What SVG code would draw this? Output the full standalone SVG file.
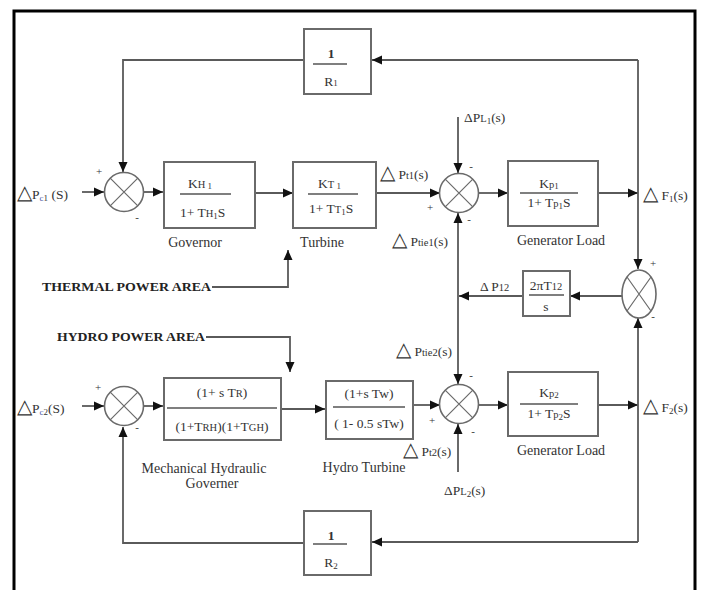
<svg xmlns="http://www.w3.org/2000/svg" width="701" height="590" viewBox="0 0 701 590">
<defs>
<marker id="ah" markerWidth="10" markerHeight="10" refX="10" refY="5" orient="auto" markerUnits="userSpaceOnUse">
<path d="M0,0.5 L10,5 L0,9.5 Z" fill="#111"/>
</marker>
<style>
.frame{fill:none;stroke:#000;stroke-width:3}
.box{fill:#fff;stroke:#6a6a6a;stroke-width:2}
.arr{fill:none;stroke:#5a5a5a;stroke-width:1.8;marker-end:url(#ah)}
.sum{fill:#fff;stroke:#6a6a6a;stroke-width:1.6}
.x{stroke:#6a6a6a;stroke-width:1.2}
.frac{stroke:#555;stroke-width:1.6}
text{font-family:"Liberation Serif","Times New Roman",serif;fill:#333;font-size:13.5px}
.t{font-size:14px}
.c{text-anchor:middle}
.b{font-weight:bold;font-size:13px;fill:#222}
.sg{font-size:11px;text-anchor:middle}
.tri{font-size:20px}
.sm{font-size:10.5px}
.sub{font-size:9px}
</style>
</defs>
<rect width="701" height="590" fill="#fff"/>
<path class="frame" d="M14,590 V11 H695 V590"/>

<g id="connectors">
<path class="arr" d="M82,192 H104"/>
<path class="arr" d="M144,192 H163"/>
<path class="arr" d="M255,193 H293"/>
<path class="arr" d="M376,193 H440"/>
<path class="arr" d="M458,117 V173"/>
<path class="arr" d="M478,193 H508"/>
<path class="arr" d="M598,193 H638"/>
<path class="arr" d="M638,60 V269"/>
<path class="arr" d="M638,60 H372"/>
<path class="arr" d="M304,60 H123 V172"/>
<path class="arr" d="M212,287 H288 V250"/>
<path class="arr" d="M206,337 H290 V372"/>
<path class="arr" d="M622,296 H570"/>
<path class="arr" d="M523,296 H459"/>
<path class="arr" d="M458,296 V213"/>
<path class="arr" d="M458,296 V384"/>
<path class="arr" d="M82,406 H104"/>
<path class="arr" d="M144,406 H163"/>
<path class="arr" d="M281,409 H325"/>
<path class="arr" d="M413,405 H440"/>
<path class="arr" d="M458,472 V424"/>
<path class="arr" d="M478,405 H508"/>
<path class="arr" d="M598,405 H638"/>
<path class="arr" d="M638,542 V318"/>
<path class="arr" d="M638,542 H372"/>
<path class="arr" d="M304,543 H123 V427"/>
</g>

<g id="input1">
<text x="17" y="199"><tspan class="tri">△</tspan>P<tspan class="sub" fill="#4a5aa8" dy="2">c</tspan><tspan class="sub">1</tspan><tspan dy="-2"> (S)</tspan></text>
</g>

<g id="sum1">
<circle class="sum" cx="124" cy="192" r="19.5"/>
<path class="x" d="M110.2,178.2 L137.8,205.8 M137.8,178.2 L110.2,205.8"/>
<text class="sg" x="99" y="175">+</text>
<text class="sg" x="137" y="221">-</text>
</g>

<g id="r1">
<rect class="box" x="304" y="29" width="67" height="65"/>
<text class="c" x="331" y="58" font-weight="bold" font-size="15">1</text>
<line class="frac" x1="313" y1="64" x2="347" y2="64"/>
<text class="c" x="331" y="86">R<tspan class="sub">1</tspan></text>
</g>

<g id="governor">
<rect class="box" x="164" y="162" width="91" height="66"/>
<text x="188" y="188">K<tspan class="sm">H</tspan><tspan class="sub" dy="1"> 1</tspan></text>
<line class="frac" x1="180" y1="194" x2="231" y2="194"/>
<text x="180" y="217">1+ T<tspan class="sm">H</tspan><tspan class="sub" dy="2">1</tspan><tspan dy="-2">S</tspan></text>
<text class="t c" x="195" y="247">Governor</text>
</g>

<g id="turbine">
<rect class="box" x="293" y="162" width="83" height="66"/>
<text x="318" y="188">K<tspan class="sm">T</tspan><tspan class="sub" dy="1"> 1</tspan></text>
<line class="frac" x1="308" y1="194" x2="358" y2="194"/>
<text x="309" y="213">1+ T<tspan class="sm">T</tspan><tspan class="sub" dy="2">1</tspan><tspan dy="-2">S</tspan></text>
<text class="t c" x="322" y="247">Turbine</text>
<text x="380" y="179"><tspan class="tri">△</tspan> P<tspan class="sm">t1</tspan>(s)</text>
</g>

<g id="sum2">
<circle class="sum" cx="459" cy="193" r="19.5"/>
<path class="x" d="M445.2,179.2 L472.8,206.8 M472.8,179.2 L445.2,206.8"/>
<text x="464" y="122">ΔP<tspan class="sm">L</tspan><tspan class="sub" dy="2">1</tspan><tspan dy="-2">(s)</tspan></text>
<text class="sg" x="471" y="170">-</text>
<text class="sg" x="430" y="211">+</text>
<text class="sg" x="469" y="223">-</text>
</g>

<g id="genload1">
<rect class="box" x="508" y="161" width="90" height="65"/>
<text class="c" x="549" y="188">K<tspan class="sm">p</tspan><tspan class="sub" dy="1">1</tspan></text>
<line class="frac" x1="520" y1="193" x2="578" y2="193"/>
<text class="c" x="549" y="207">1+ T<tspan class="sm">p</tspan><tspan class="sub" dy="2">1</tspan><tspan dy="-2">S</tspan></text>
<text class="t c" x="561" y="245">Generator Load</text>
</g>

<g id="f1">
<text x="643" y="200"><tspan class="tri">△</tspan> F<tspan class="sub" dy="2">1</tspan><tspan dy="-2">(s)</tspan></text>
</g>

<g id="thermal-label">
<text class="b" x="42" y="291" textLength="169" lengthAdjust="spacingAndGlyphs">THERMAL POWER AREA</text>
</g>

<g id="hydro-label">
<text class="b" x="57" y="341" textLength="148" lengthAdjust="spacingAndGlyphs">HYDRO POWER AREA</text>
</g>

<g id="tie-labels">
<text x="392" y="246"><tspan class="tri">△</tspan> P<tspan class="sm">tie1</tspan>(s)</text>
<text x="396" y="356"><tspan class="tri">△</tspan> P<tspan class="sm">tie2</tspan>(s)</text>
<text x="480" y="291">Δ P<tspan class="sm">12</tspan></text>
</g>

<g id="tieline">
<rect class="box" x="523" y="271" width="47" height="45"/>
<text class="c" x="546" y="290">2πT<tspan class="sm">12</tspan></text>
<line class="frac" x1="529" y1="295" x2="564" y2="295"/>
<text class="c" x="546" y="311">s</text>
</g>

<g id="sum3">
<ellipse class="sum" cx="639" cy="294" rx="17" ry="24"/>
<path class="x" d="M627,277 L651,311 M651,277 L627,311"/>
<text class="sg" x="653" y="267">+</text>
<text class="sg" x="653" y="320">-</text>
</g>

<g id="input2">
<text x="17" y="413"><tspan class="tri">△</tspan>P<tspan class="sub" fill="#4a5aa8" dy="2">c</tspan><tspan class="sub">2</tspan><tspan dy="-2">(S)</tspan></text>
</g>

<g id="sum4">
<circle class="sum" cx="124" cy="406" r="19.5"/>
<path class="x" d="M110.2,392.2 L137.8,419.8 M137.8,392.2 L110.2,419.8"/>
<text class="sg" x="98" y="391">+</text>
<text class="sg" x="137" y="431">-</text>
</g>

<g id="hydro-governor">
<rect class="box" x="164" y="378" width="117" height="62"/>
<text class="c" x="222" y="397">(1+ s T<tspan class="sm">R</tspan>)</text>
<line class="frac" x1="167" y1="408" x2="277" y2="408"/>
<text class="c" x="222" y="431">(1+T<tspan class="sm">RH</tspan>)(1+T<tspan class="sm">GH</tspan>)</text>
<text class="t c" x="204" y="473">Mechanical Hydraulic</text>
<text class="t c" x="212" y="488">Governer</text>
</g>

<g id="hydro-turbine">
<rect class="box" x="326" y="381" width="87" height="58"/>
<text class="c" x="369" y="398">(1+s Tw)</text>
<line class="frac" x1="333" y1="407" x2="405" y2="407"/>
<text class="c" x="369" y="428">( 1- 0.5 sTw)</text>
<text class="t c" x="364" y="472">Hydro Turbine</text>
<text x="403" y="456"><tspan class="tri">△</tspan> P<tspan class="sm">t2</tspan>(s)</text>
</g>

<g id="sum5">
<circle class="sum" cx="459" cy="404" r="19.5"/>
<path class="x" d="M445.2,390.2 L472.8,417.8 M472.8,390.2 L445.2,417.8"/>
<text class="sg" x="471" y="379">-</text>
<text class="sg" x="432" y="424">+</text>
<text class="sg" x="473" y="435">-</text>
<text x="444" y="495">ΔP<tspan class="sm">L</tspan><tspan class="sub" dy="2">2</tspan><tspan dy="-2">(s)</tspan></text>
</g>

<g id="genload2">
<rect class="box" x="508" y="372" width="90" height="64"/>
<text class="c" x="549" y="397">K<tspan class="sm">p</tspan><tspan class="sub" dy="1">2</tspan></text>
<line class="frac" x1="520" y1="404" x2="578" y2="404"/>
<text class="c" x="549" y="418">1+ T<tspan class="sm">p</tspan><tspan class="sub" dy="2">2</tspan><tspan dy="-2">S</tspan></text>
<text class="t c" x="561" y="455">Generator Load</text>
</g>

<g id="f2">
<text x="643" y="412"><tspan class="tri">△</tspan> F<tspan class="sub" dy="2">2</tspan><tspan dy="-2">(s)</tspan></text>
</g>

<g id="r2">
<rect class="box" x="304" y="511" width="67" height="64"/>
<text class="c" x="331" y="540" font-weight="bold" font-size="15">1</text>
<line class="frac" x1="313" y1="544" x2="347" y2="544"/>
<text class="c" x="331" y="567">R<tspan class="sub" dy="2">2</tspan></text>
</g>
</svg>
